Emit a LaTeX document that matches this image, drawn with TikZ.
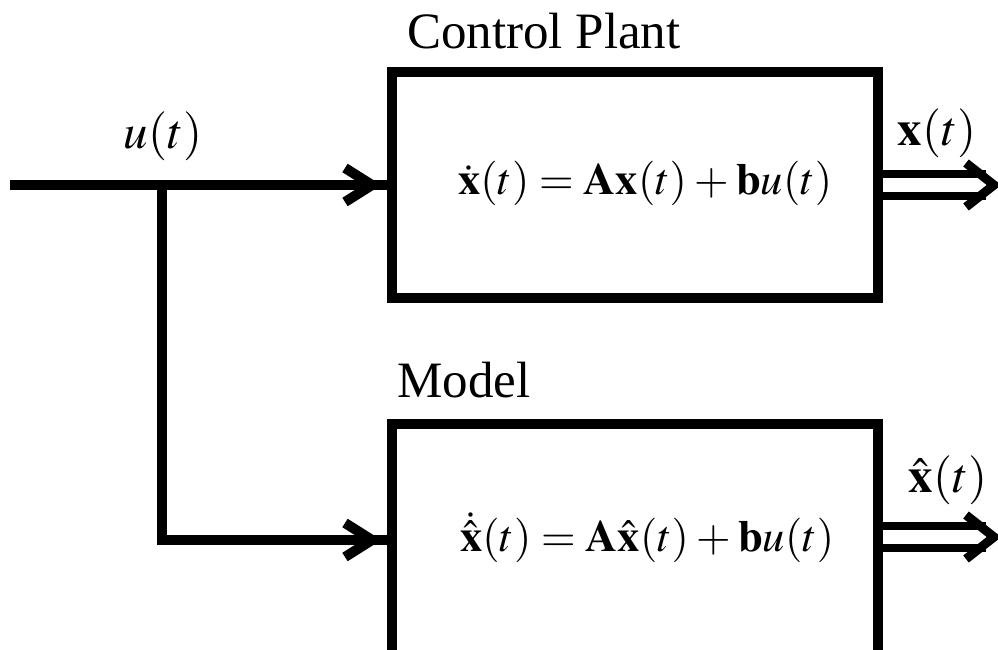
\documentclass[tikz,border=0pt]{standalone}
\usepackage{mathptmx}
\usepackage[no-math]{fontspec}
\setmainfont{Liberation Serif}
\newfontfamily\lbfont{Liberation Serif}
\tikzset{
  wire/.style={line width=10pt},
  boxst/.style={draw, line width=10pt, minimum width=486pt, minimum height=226pt, inner sep=0pt},
  chev/.style={line width=10pt, miter limit=10},
  dbl/.style={double, line width=8pt, double distance=14pt},
  lbl/.style={inner sep=0pt, font=\lbfont\fontsize{51}{60}\selectfont},
  mlbl/.style={inner sep=0pt, font=\fontsize{49}{58}\selectfont},
  eqst/.style={inner sep=0pt, font=\fontsize{44.5}{54}\selectfont},
}
\thickmuskip=4mu plus 2mu
\medmuskip=3mu plus 1mu minus 1mu
\begin{document}
\begin{tikzpicture}[x=1pt,y=-1pt]
\useasboundingbox (0,0) rectangle (998,649);
\clip (0,0) rectangle (998,649);
% boxes
\node[boxst] (plant) at (635,185) {};
\node[boxst, minimum height=232pt] (model) at (635,540) {};
% titles
\node[lbl, anchor=base west] (cp) at (407,48) {Control Plant};
\node[lbl, anchor=base west] (ml) at (397,397) {Model};
% equations
\node[eqst, anchor=base west] (eq1) at (458,194) {$\dot{\mathbf{x}}(t)=\mathbf{A}\mathbf{x}(t)+\mathbf{b}u(t)$};
\node[eqst, anchor=base west] (eq2) at (460,551) {$\dot{\hat{\mathbf{x}}}(t)=\mathbf{A}\hat{\mathbf{x}}(t)+\mathbf{b}u(t)$};
% signal labels
\node[mlbl, anchor=base] (ut) at (163,148) {$u(t)$};
\node[mlbl, anchor=base] (xt) at (937,145) {$\mathbf{x}(t)$};
\node[mlbl, anchor=base] (xh) at (948,492) {$\hat{\mathbf{x}}(t)$};
% input connectors
\coordinate (in) at (10,185);
\coordinate (br) at (162,185);
\draw[wire] (in) -- (plant.west);
\draw[wire] (br) -- (br |- model.west) -- (model.west);
\draw[chev] ([shift={(-42,-17)}]plant.west) -- ([xshift=-15pt]plant.west) -- ([shift={(-42,17)}]plant.west);
\draw[chev] ([shift={(-42,-17)}]model.west) -- ([xshift=-15pt]model.west) -- ([shift={(-42,17)}]model.west);
% outputs
\coordinate (xo) at (986,185);
\coordinate (xho) at (986,537);
\draw[dbl] (plant.east) -- (xo);
\draw[dbl] (plant.east |- xho) -- (xho);
\draw[chev, line width=9pt] ([shift={(-20,-22)}]xo) -- ([xshift=8pt]xo) -- ([shift={(-20,22)}]xo);
\draw[chev, line width=9pt] ([shift={(-20,-22)}]xho) -- ([xshift=8pt]xho) -- ([shift={(-20,22)}]xho);
\end{tikzpicture}
\end{document}
